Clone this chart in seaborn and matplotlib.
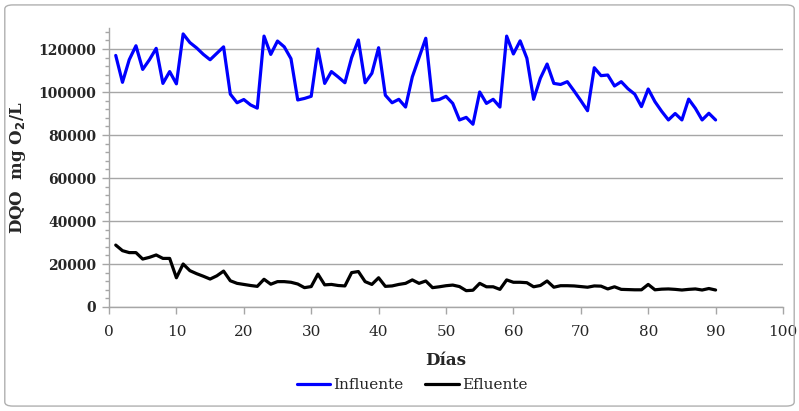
import matplotlib
matplotlib.use("Agg")
import matplotlib.pyplot as plt
import seaborn as sns
import pandas as pd
from matplotlib.patches import FancyBboxPatch
from matplotlib.lines import Line2D
from matplotlib.ticker import MultipleLocator

days = list(range(1, 91))
influente = [117000, 104500, 115000, 121500, 110500, 115000, 120300, 104000, 109500, 103800,
             127000, 123000, 120500, 117500, 115000, 118000, 121000, 99000, 95000, 96500,
             94000, 92500, 126000, 117500, 123700, 121000, 115500, 96300, 97000, 98000,
             120000, 104000, 109500, 107000, 104300, 116000, 124200, 104300, 108700, 120600,
             98500, 95000, 96600, 93000, 107000, 116000, 125000, 96000, 96500, 98000,
             94700, 87000, 88200, 85000, 100000, 94700, 96600, 93000, 126000, 117700,
             123800, 115700, 96600, 106400, 113000, 104000, 103500, 104800, 100500, 96000,
             91300, 111300, 107600, 107900, 102800, 104800, 101500, 99000, 93200, 101400,
             95500, 91000, 87000, 90000, 87000, 96700, 92400, 87000, 90100, 87000]
efluente = [28800, 26200, 25300, 25300, 22300, 23100, 24200, 22600, 22600, 13600,
            20000, 16900, 15500, 14300, 13000, 14500, 16700, 12200, 11000, 10500,
            10000, 9600, 12900, 10600, 11800, 11800, 11500, 10700, 9000, 9500,
            15300, 10300, 10500, 10000, 9800, 16000, 16500, 11800, 10500, 13600,
            9600, 9800, 10500, 11000, 12600, 11000, 12100, 9000, 9400, 9900,
            10200, 9500, 7600, 7800, 11000, 9400, 9400, 8200, 12600, 11500,
            11500, 11300, 9400, 10000, 12100, 9200, 9900, 9900, 9800, 9500,
            9200, 9800, 9700, 8400, 9400, 8200, 8100, 8000, 8000, 10500,
            8000, 8300, 8400, 8200, 7900, 8200, 8400, 7900, 8600, 7900]
series_names = ["Influente", "Efluente"]
colors = ["#0000FF", "#000000"]
x_ticks = list(range(0, 101, 10))
y_ticks = list(range(0, 120001, 20000))

df = pd.DataFrame({
    "Días": days * 2,
    "DQO": influente + efluente,
    "Serie": [series_names[0]] * len(days) + [series_names[1]] * len(days),
})

sns.set_theme(style="white")
plt.rcParams["font.family"] = ["DejaVu Serif"]

fig = plt.figure(figsize=(7.99, 4.11), dpi=100)
ax = fig.add_axes([109 / 799, 1 - 307 / 411, (783 - 109) / 799, (307 - 27.5) / 411])

sns.lineplot(data=df, x="Días", y="DQO", hue="Serie", palette=colors,
             hue_order=series_names, linewidth=2.3, ax=ax, legend=False,
             solid_joinstyle="round", solid_capstyle="round")

ax.set_xlim(0, 100)
ax.set_ylim(0, 130000)
ax.set_xticks(x_ticks)
ax.set_yticks(y_ticks)
ax.yaxis.set_minor_locator(MultipleLocator(4000))
ax.set_xticklabels([str(t) for t in x_ticks], fontsize=11)
ax.set_yticklabels([str(t) for t in y_ticks], fontsize=10, fontweight="bold")
ax.grid(axis="y", color="#a6a6a6", linewidth=1)
ax.grid(axis="x", visible=False)
ax.set_axisbelow(True)
for s in ["top", "right"]:
    ax.spines[s].set_visible(False)
for s in ["left", "bottom"]:
    ax.spines[s].set_color("#a6a6a6")
    ax.spines[s].set_linewidth(1)
ax.tick_params(axis="both", which="major", direction="out", length=5, width=1,
               color="#a6a6a6", left=True, bottom=True, pad=4)
ax.tick_params(axis="x", which="major", pad=8)
ax.tick_params(axis="y", which="minor", direction="out", length=3, width=1,
               color="#a6a6a6", left=True)

ax.set_xlabel("Días", fontsize=12, fontweight="bold", labelpad=9)
ax.set_ylabel("DQO  mg O$_\\mathbf{2}$/L", fontsize=12, fontweight="bold", labelpad=8)

handles = [Line2D([], [], color=c, linewidth=2.3) for c in colors]
fig.legend(handles, series_names, loc="center", bbox_to_anchor=(412 / 799, 1 - 385 / 411),
           ncol=2, frameon=False, fontsize=11, handlelength=2.2, handletextpad=0.2,
           columnspacing=1.4)

fig.patches.append(FancyBboxPatch((0.006, 0.012), 0.988, 0.976, boxstyle="round,pad=0,rounding_size=0.01",
                                  transform=fig.transFigure, fill=False,
                                  edgecolor="#b0b0b0", linewidth=1))

fig.savefig("out.png", dpi=100)
